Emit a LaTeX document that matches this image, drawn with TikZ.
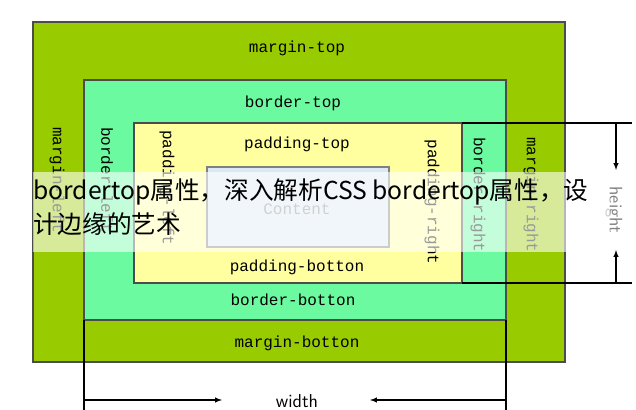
\documentclass[tikz,border=0pt]{standalone}
\usepackage{fontspec}
\newfontfamily\cjk{Noto Sans CJK SC}
\setmonofont{Liberation Mono}
\newlength{\du}
\setlength{\du}{0.75pt}
\definecolor{margincolor}{RGB}{153,204,0}
\definecolor{bordercolor}{RGB}{108,250,160}
\definecolor{paddingcolor}{RGB}{255,255,160}
\definecolor{contentcolor}{RGB}{218,234,244}
\tikzset{
  boxlabel/.style={font=\ttfamily\fontsize{12}{14}\selectfont, inner sep=0pt},
  sidelabel/.style={boxlabel, rotate=-90},
  dimline/.style={line width=0.8pt},
  dimarrow/.style={dimline, -latex}
}
\begin{document}
\begin{tikzpicture}[yscale=-1]
\useasboundingbox (0\du,0\du) rectangle (636\du,410\du);
\fill[white] (0\du,0\du) rectangle (636\du,410\du);
% margin
\filldraw[fill=margincolor, draw=black!70, line width=0.8pt] (33\du,22\du) rectangle (565\du,362\du);
% border
\filldraw[fill=bordercolor, draw=black!70, line width=0.8pt] (84\du,80\du) rectangle (506\du,320\du);
% padding
\filldraw[fill=paddingcolor, draw=black!70, line width=0.8pt] (134\du,123\du) rectangle (462\du,283\du);
% content
\filldraw[fill=contentcolor, draw=black!50, line width=0.8pt] (207\du,167\du) rectangle (389\du,247\du);
\node[boxlabel] (mtop) at (297\du,48\du) {margin-top};
\node[boxlabel] (btop) at (293\du,103\du) {border-top};
\node[boxlabel] (ptop) at (297\du,144\du) {padding-top};
\node[boxlabel, text=black!45] (content) at (297\du,209\du) {Content};
\node[boxlabel] (pbot) at (297\du,267\du) {padding-botton};
\node[boxlabel] (bbot) at (293\du,300\du) {border-botton};
\node[boxlabel] (mbot) at (297\du,343\du) {margin-botton};
\node[sidelabel] (mleft) at (57\du,180\du) {margin-left};
\node[sidelabel] (bleft) at (107\du,180\du) {border-left};
\node[sidelabel] (pleft) at (167\du,188\du) {padding-left};
\node[sidelabel] (pright) at (432\du,202\du) {padding-right};
\node[sidelabel] (bright) at (478\du,195\du) {border-right};
\node[sidelabel] (mright) at (531\du,195\du) {margin-right};
% height
\coordinate (htop) at (462\du,123\du);
\coordinate (hbot) at (462\du,283\du);
\coordinate (hdown) at (616\du,170\du);
\coordinate (hup) at (616\du,250\du);
\draw[dimline] (htop) -- (632\du,123\du);
\draw[dimline] (hbot) -- (632\du,283\du);
\node[font=\sffamily\fontsize{14}{16}\selectfont, rotate=-90, text=black!50] (height) at (614\du,210\du) {height};
\draw[dimarrow] (616\du,123\du) -- (hdown);
\draw[dimarrow] (616\du,283\du) -- (hup);
% width
\coordinate (wleft) at (84\du,320\du);
\coordinate (wright) at (506\du,320\du);
\coordinate (wtoright) at (222\du,400\du);
\coordinate (wtoleft) at (370\du,400\du);
\draw[dimline] (wleft) -- (84\du,410\du);
\draw[dimline] (wright) -- (506\du,410\du);
\node[font=\sffamily\fontsize{14}{16}\selectfont] (width) at (297\du,401\du) {width};
\draw[dimarrow] (84\du,400\du) -- (wtoright);
\draw[dimarrow] (506\du,400\du) -- (wtoleft);
% overlay
\fill[white, opacity=0.6] (33\du,172\du) rectangle (610\du,252\du);
\node[font=\cjk\fontsize{18.5}{26}\selectfont, anchor=north west, align=left, inner sep=0pt] (caption) at (33\du,178\du)
  {bordertop属性，深入解析CSS bordertop属性，设\\计边缘的艺术};
\end{tikzpicture}
\end{document}
